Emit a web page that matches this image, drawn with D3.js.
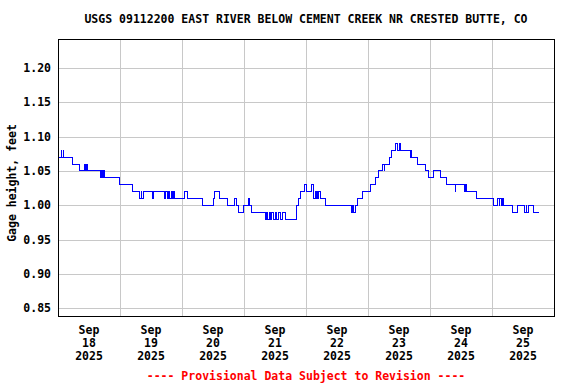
<!DOCTYPE html>
<html>
<head>
<meta charset="utf-8">
<script src="https://cdn.jsdelivr.net/npm/d3@7"></script>
<style>
  body { margin: 0; background: #fff; }
  text { font-family: "DejaVu Sans Mono", monospace; font-weight: bold; }
</style>
</head>
<body>
<div id="chart"></div>
<script>
const title = "USGS 09112200 EAST RIVER BELOW CEMENT CREEK NR CRESTED BUTTE, CO";
const yLabel = "Gage height, feet";
const footer = "---- Provisional Data Subject to Revision ----";

// hours since 2025-09-18 00:00, and the gage height that starts there (step data)
const hours = [
  0, 0.25, 1.25, 1.5, 2, 2.25, 5.75, 8.25, 10.25, 10.5, 11, 11.25,
  16.5, 17, 17.25, 17.75, 18, 23.75, 28.75, 31.5, 32.25, 32.5, 33,
  36.75, 37, 41.25, 41.75, 42.25, 42.75, 43.25, 43.75, 44.25, 44.75,
  45.25, 49, 50, 56, 60, 60.5, 62.5, 65.5, 68.5, 69, 69.75, 71.75,
  73.75, 74, 75, 80.5, 80.75, 81.25, 81.75, 82.25, 82.5, 83.5, 84,
  84.75, 85.25, 86.25, 86.75, 88.25, 92.25, 92.5, 93.25, 93.75,
  95.5, 96, 98.25, 98.75, 99, 99.5, 100, 100.25, 100.5, 101, 101.5,
  103.5, 113.5, 114, 114.25, 115, 115.75, 117.75, 121, 122.75,
  124.25, 125.75, 126.25, 126.5, 128.5, 129.25, 130.5, 131.5, 132,
  132.5, 136.5, 136.75, 137, 139, 142.25, 143.25, 145.5, 148, 150.5,
  153.75, 154, 157.5, 157.75, 158.25, 162, 168.5, 170, 170.75, 171,
  171.75, 172.25, 172.5, 176, 177.75, 180.75, 181.25, 181.5, 182,
  184, 186.25
];
const gage = [
  1.08, 1.07, 1.08, 1.07, 1.08, 1.07, 1.06, 1.05, 1.06, 1.05, 1.06, 1.05,
  1.04, 1.05, 1.04, 1.05, 1.04, 1.03, 1.02, 1.01, 1.02, 1.01, 1.02,
  1.01, 1.02, 1.01, 1.02, 1.01, 1.02, 1.01, 1.02, 1.01, 1.02,
  1.01, 1.02, 1.01, 1.00, 1.01, 1.02, 1.01, 1.00, 1.01, 1.00, 0.99, 1.00,
  1.01, 1.00, 0.99, 0.98, 0.99, 0.98, 0.99, 0.98, 0.99, 0.98, 0.99,
  0.98, 0.99, 0.98, 0.99, 0.98, 0.99, 1.00, 1.01, 1.02,
  1.03, 1.02, 1.03, 1.02, 1.01, 1.02, 1.01, 1.02, 1.01, 1.02, 1.01,
  1.00, 0.99, 1.00, 0.99, 1.00, 1.01, 1.02, 1.03, 1.04,
  1.05, 1.06, 1.05, 1.06, 1.07, 1.08, 1.09, 1.08, 1.09,
  1.08, 1.07, 1.08, 1.07, 1.06, 1.05, 1.04, 1.05, 1.04, 1.03,
  1.02, 1.03, 1.02, 1.03, 1.02, 1.01, 1.00, 1.01, 1.00, 1.01,
  1.00, 1.01, 1.00, 0.99, 1.00, 0.99, 1.00, 0.99, 1.00,
  0.99, 0.99
];

const yTicks = [0.85, 0.90, 0.95, 1.00, 1.05, 1.10, 1.15, 1.20];
const dayLabels = ["18", "19", "20", "21", "22", "23", "24", "25"];
const monthLabel = "Sep";
const yearLabel = "2025";

const W = 576, H = 384;
const plot = {left: 58, top: 39, right: 554, bottom: 316};

const start = Date.UTC(2025, 8, 18);
const points = hours.map((h, i) => ({t: new Date(start + h * 3600e3), v: gage[i]}));

const svg = d3.select("#chart").append("svg")
  .attr("width", W).attr("height", H);

const x = d3.scaleUtc()
  .domain([new Date(start), new Date(start + 8 * 86400e3)])
  .range([plot.left, plot.right]);
const y = d3.scaleLinear()
  .domain([0.8388, 1.2422])
  .range([plot.bottom, plot.top]);

// grid lines
const gy = svg.append("g")
  .attr("transform", "translate(" + plot.left + ",0)")
  .call(d3.axisLeft(y).tickValues(yTicks).tickSize(-(plot.right - plot.left)).tickFormat(""));
gy.select(".domain").remove();
gy.selectAll(".tick line").attr("stroke", "#c8c8c8").attr("shape-rendering", "crispEdges");

const gx = svg.append("g")
  .attr("transform", "translate(0," + plot.bottom + ")")
  .call(d3.axisBottom(x).ticks(d3.utcDay.every(1)).tickSize(-(plot.bottom - plot.top)).tickFormat(""));
gx.select(".domain").remove();
gx.selectAll(".tick line").attr("stroke", "#c8c8c8").attr("shape-rendering", "crispEdges");

// the data line
svg.append("path")
  .datum(points)
  .attr("fill", "none")
  .attr("stroke", "#0000ff")
  .attr("stroke-width", 1)
  .attr("shape-rendering", "crispEdges")
  .attr("d", d3.line().curve(d3.curveStepAfter).x(d => x(d.t)).y(d => y(d.v)));

// frame
svg.append("rect")
  .attr("x", plot.left + 0.5).attr("y", plot.top + 0.5)
  .attr("width", plot.right - plot.left).attr("height", plot.bottom - plot.top)
  .attr("fill", "none").attr("stroke", "#000").attr("shape-rendering", "crispEdges");

// y tick labels
svg.append("g").selectAll("text")
  .data(yTicks)
  .enter().append("text")
  .attr("x", 51)
  .attr("y", d => y(d))
  .attr("dy", "0.36em")
  .attr("text-anchor", "end")
  .attr("font-size", 11.5)
  .text(d => d.toFixed(2));

// x labels centred at noon of each day
const noon = dayLabels.map((d, i) => new Date(start + (i + 0.5) * 86400e3));
const xl = svg.append("g").selectAll("text")
  .data(noon)
  .enter().append("text")
  .attr("text-anchor", "middle")
  .attr("font-size", 11.5);
xl.append("tspan").attr("x", d => x(d)).attr("y", 334).text(monthLabel);
xl.append("tspan").attr("x", d => x(d)).attr("y", 347).text((d, i) => dayLabels[i]);
xl.append("tspan").attr("x", d => x(d)).attr("y", 360).text(yearLabel);

svg.append("text")
  .attr("x", 306).attr("y", 23)
  .attr("text-anchor", "middle")
  .attr("font-size", 11.5)
  .text(title);

svg.append("text")
  .attr("transform", "translate(16,183) rotate(-90)")
  .attr("text-anchor", "middle")
  .attr("font-size", 11.5)
  .text(yLabel);

svg.append("text")
  .attr("x", 306).attr("y", 380)
  .attr("text-anchor", "middle")
  .attr("font-size", 11.5)
  .attr("fill", "#ff0000")
  .text(footer);
</script>
</body>
</html>
